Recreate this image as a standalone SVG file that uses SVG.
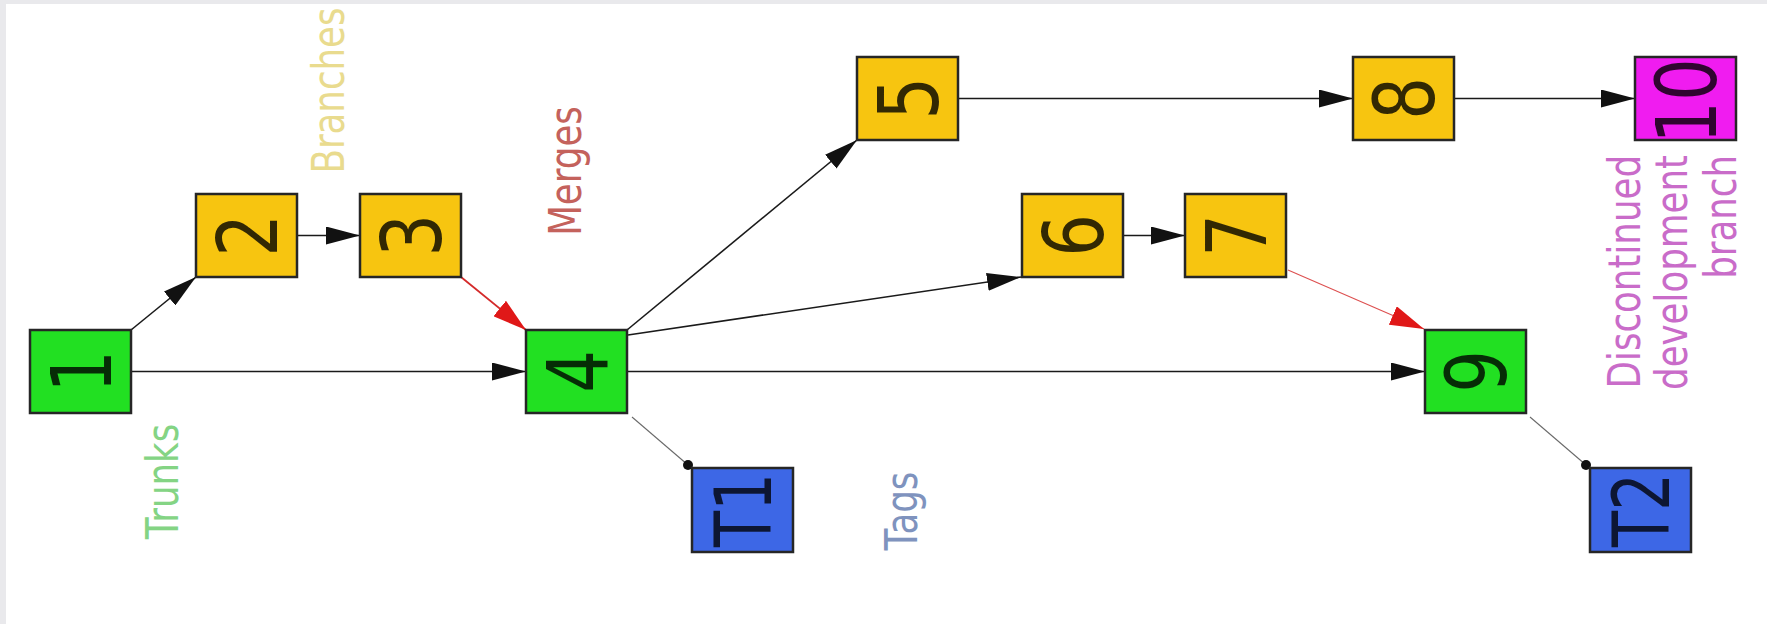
<svg xmlns="http://www.w3.org/2000/svg" width="1767" height="624" viewBox="0 0 1767 624">
  <defs>
    <style>
      .box { stroke: #262626; stroke-width: 2.5; }
      .trunk { fill: #22e022; }
      .branch { fill: #f7c510; }
      .tag { fill: #3d67e6; }
      .disc { fill: #f01cf0; }
      .num { font-family: "DejaVu Sans", sans-serif; font-size: 84px; fill: #000; fill-opacity: 0.8; text-anchor: middle; }
      .tnum { font-family: "DejaVu Sans", sans-serif; font-size: 78px; fill: #000; fill-opacity: 0.78; text-anchor: middle; }
      .lbl { font-family: "DejaVu Sans", sans-serif; font-size: 44px; text-anchor: middle; }
      .edge { fill: none; stroke: #1a1a1a; stroke-width: 1.6; }
      .merge { fill: none; stroke: #d42a2a; stroke-width: 1.8; }
      .merge2 { fill: none; stroke: #dd5050; stroke-width: 1.1; }
      .taglink { fill: none; stroke: #6a6a6a; stroke-width: 1.1; }
    </style>
    <marker id="arrow" markerUnits="userSpaceOnUse" viewBox="0 0 34 18" markerWidth="34" markerHeight="18" refX="34" refY="9" orient="auto">
      <path d="M0,0 L34,9 L0,18 z" fill="#111"/>
    </marker>
    <marker id="arrowRed" markerUnits="userSpaceOnUse" viewBox="0 0 34 20" markerWidth="34" markerHeight="20" refX="34" refY="10" orient="auto">
      <path d="M0,0 L34,10 L0,20 z" fill="#e01818"/>
    </marker>
  </defs>

  <rect x="0" y="0" width="1767" height="624" fill="#ffffff"/>
  <rect x="0" y="0" width="1767" height="4" fill="#e9e9ec"/>
  <rect x="0" y="0" width="6" height="624" fill="#e9e9ec"/>

  <g id="connectors">
    <path class="edge" d="M131,371.5 H526" marker-end="url(#arrow)"/>
    <path class="edge" d="M131,330 L196,277" marker-end="url(#arrow)"/>
    <path class="edge" d="M297,235.5 H360" marker-end="url(#arrow)"/>
    <path class="merge" d="M461,277 L526,330" marker-end="url(#arrowRed)"/>
    <path class="edge" d="M627,330 L857,140" marker-end="url(#arrow)"/>
    <path class="edge" d="M628,335 L1021,277" marker-end="url(#arrow)"/>
    <path class="edge" d="M627,371.5 H1425" marker-end="url(#arrow)"/>
    <path class="edge" d="M958,98.5 H1353" marker-end="url(#arrow)"/>
    <path class="edge" d="M1454,98.5 H1635" marker-end="url(#arrow)"/>
    <path class="edge" d="M1123,235.5 H1185" marker-end="url(#arrow)"/>
    <path class="merge2" d="M1288,270 L1424,329" marker-end="url(#arrowRed)"/>
    <path class="taglink" d="M632,417 L688,465"/>
    <circle cx="688" cy="465" r="5" fill="#111"/>
    <path class="taglink" d="M1530,417 L1586,465"/>
    <circle cx="1586" cy="465" r="5" fill="#111"/>
  </g>

  <g id="node1">
    <rect class="box trunk" x="30" y="330" width="101" height="83"/>
    <text class="num" transform="translate(80.5,371.5) scale(1,0.8) rotate(-90)" x="0" y="30.6">1</text>
  </g>
  <g id="node2">
    <rect class="box branch" x="196" y="194" width="101" height="83"/>
    <text class="num" transform="translate(246.5,235.5) scale(1,0.8) rotate(-90)" x="0" y="30.6">2</text>
  </g>
  <g id="node3">
    <rect class="box branch" x="360" y="194" width="101" height="83"/>
    <text class="num" transform="translate(410.5,235.5) scale(1,0.8) rotate(-90)" x="0" y="30.6">3</text>
  </g>
  <g id="node4">
    <rect class="box trunk" x="526" y="330" width="101" height="83"/>
    <text class="num" transform="translate(576.5,371.5) scale(1,0.8) rotate(-90)" x="0" y="30.6">4</text>
  </g>
  <g id="node5">
    <rect class="box branch" x="857" y="57" width="101" height="83"/>
    <text class="num" transform="translate(907.5,98.5) scale(1,0.8) rotate(-90)" x="0" y="30.6">5</text>
  </g>
  <g id="node6">
    <rect class="box branch" x="1022" y="194" width="101" height="83"/>
    <text class="num" transform="translate(1072.5,235.5) scale(1,0.8) rotate(-90)" x="0" y="30.6">6</text>
  </g>
  <g id="node7">
    <rect class="box branch" x="1185" y="194" width="101" height="83"/>
    <text class="num" transform="translate(1235.5,235.5) scale(1,0.8) rotate(-90)" x="0" y="30.6">7</text>
  </g>
  <g id="node8">
    <rect class="box branch" x="1353" y="57" width="101" height="83"/>
    <text class="num" transform="translate(1403.5,98.5) scale(1,0.8) rotate(-90)" x="0" y="30.6">8</text>
  </g>
  <g id="node9">
    <rect class="box trunk" x="1425" y="330" width="101" height="83"/>
    <text class="num" transform="translate(1475.5,371.5) scale(1,0.8) rotate(-90)" x="0" y="30.6">9</text>
  </g>
  <g id="node10">
    <rect class="box disc" x="1635" y="57" width="101" height="83"/>
    <text class="num" transform="translate(1685.5,101) scale(1,0.8) rotate(-90)" x="0" y="30.6">10</text>
  </g>
  <g id="nodeT1">
    <rect class="box tag" x="692" y="468" width="101" height="84"/>
    <text class="tnum" transform="translate(742.5,510) scale(1,0.76) rotate(-90)" x="0" y="28.4">T1</text>
  </g>
  <g id="nodeT2">
    <rect class="box tag" x="1590" y="468" width="101" height="84"/>
    <text class="tnum" transform="translate(1640.5,510) scale(1,0.76) rotate(-90)" x="0" y="28.4">T2</text>
  </g>

  <g id="labels">
    <text class="lbl" fill="#84d484" transform="translate(178,481.5) scale(1,0.81) rotate(-90)">Trunks</text>
    <text class="lbl" fill="#e9db8e" transform="translate(344,90.5) scale(1,0.81) rotate(-90)">Branches</text>
    <text class="lbl" fill="#c4625c" transform="translate(581,171) scale(1,0.81) rotate(-90)">Merges</text>
    <text class="lbl" fill="#7f93be" transform="translate(917,511) scale(1,0.81) rotate(-90)">Tags</text>
    <text class="lbl" fill="#c96cc9" style="text-anchor:end" transform="translate(1640,155) scale(1,0.81) rotate(-90)">Discontinued</text>
    <text class="lbl" fill="#c96cc9" style="text-anchor:end" transform="translate(1687,155) scale(1,0.81) rotate(-90)">development</text>
    <text class="lbl" fill="#c96cc9" style="text-anchor:end" transform="translate(1736,155) scale(1,0.81) rotate(-90)">branch</text>
  </g>
</svg>
